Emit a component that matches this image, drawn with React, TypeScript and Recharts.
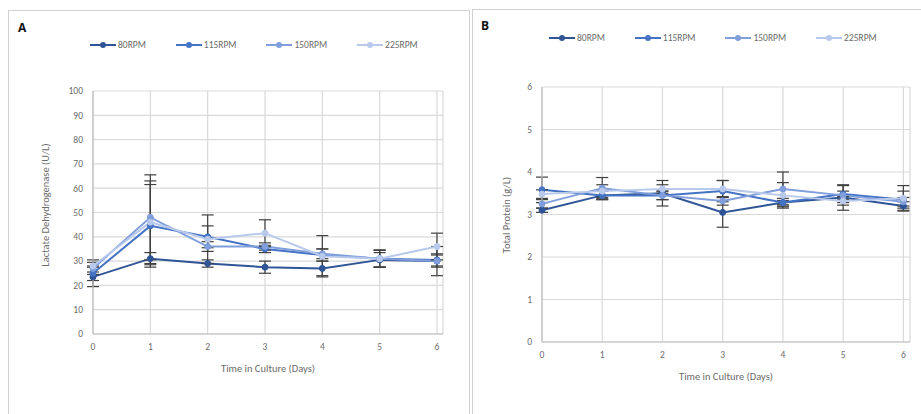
import { CartesianGrid, ErrorBar, Legend, Line, LineChart, XAxis, YAxis } from "recharts";

const days = [0, 1, 2, 3, 4, 5, 6];
const seriesNames = ["80RPM", "115RPM", "150RPM", "225RPM"];
const seriesColors = ["#2f5597", "#4472c4", "#7f9edb", "#b8c9ec"];

// LDH (U/L)
const ldh80 = [23.5, 31, 29, 27.5, 27, 30.5, 30];
const ldh115 = [25, 44.5, 40, 35, 32.5, 31, 30.5];
const ldh150 = [27, 48, 36, 36, 33, 31, 30];
const ldh225 = [28, 46, 39, 41.5, 32, 31, 36];
const ldhErr80 = [4, 2.5, 1.5, 2.5, 3, 3, 2.5];
const ldhErr115 = [3, 17, 4.5, 1.5, 2.5, 3.5, 2.5];
const ldhErr150 = [2.5, 17.5, 2, 1.5, 2, 3.5, 6];
const ldhErr225 = [2.5, 17, 10, 5.5, 8.5, 3.5, 5.5];
const ldhTicks = [0, 10, 20, 30, 40, 50, 60, 70, 80, 90, 100];

// Total protein (g/L)
const tp80 = [3.1, 3.45, 3.5, 3.05, 3.28, 3.4, 3.2];
const tp115 = [3.58, 3.45, 3.45, 3.55, 3.28, 3.48, 3.35];
const tp150 = [3.25, 3.62, 3.45, 3.32, 3.6, 3.45, 3.3];
const tp225 = [3.48, 3.55, 3.6, 3.6, 3.45, 3.32, 3.38];
const tpErr80 = [0.05, 0.1, 0.3, 0.35, 0.1, 0.3, 0.1];
const tpErr115 = [0.3, 0.1, 0.1, 0.25, 0.05, 0.2, 0.2];
const tpErr150 = [0.1, 0.25, 0.1, 0.1, 0.4, 0.1, 0.1];
const tpErr225 = [0.1, 0.15, 0.1, 0.2, 0.3, 0.1, 0.3];
const tpTicks = [0, 1, 2, 3, 4, 5, 6];

function buildRows(values: number[][], errors: number[][]) {
  return days.map((d, i) => {
    const row: Record<string, number> = { day: d };
    seriesNames.forEach((n, s) => {
      row[n] = values[s][i];
      row[n + "_err"] = errors[s][i];
    });
    return row;
  });
}

const ldhData = buildRows([ldh80, ldh115, ldh150, ldh225], [ldhErr80, ldhErr115, ldhErr150, ldhErr225]);
const tpData = buildRows([tp80, tp115, tp150, tp225], [tpErr80, tpErr115, tpErr150, tpErr225]);

const font = "Carlito, 'Open Sans', 'Liberation Sans', sans-serif";
const tickStyle = { fill: "#6b6b6b", fontSize: 9.5, fontFamily: font };

function LegendRow() {
  return (
    <div style={{ display: "flex", gap: 30, fontFamily: font, fontSize: 9.5, color: "#6b6b6b" }}>
      {seriesNames.map((n, i) => (
        <div key={n} style={{ display: "flex", alignItems: "center", gap: 2 }}>
          <svg width={26} height={8}>
            <line x1={0} y1={4} x2={26} y2={4} stroke={seriesColors[i]} strokeWidth={2} />
            <circle cx={13} cy={4} r={3} fill={seriesColors[i]} />
          </svg>
          <span>{n}</span>
        </div>
      ))}
    </div>
  );
}

function Panel({
  data,
  ticks,
  width,
  height,
  margin,
  xMax,
  legendLeft,
  legendTop,
}: {
  data: Record<string, number>[];
  ticks: number[];
  width: number;
  height: number;
  margin: { top: number; right: number; left: number; bottom: number };
  xMax: number;
  legendLeft: number;
  legendTop: number;
}) {
  return (
    <LineChart width={width} height={height} data={data} margin={margin}>
      <CartesianGrid stroke="#d9d9d9" strokeWidth={1.2} />
      <XAxis
        dataKey="day"
        type="number"
        domain={[0, xMax]}
        ticks={days}
        height={30}
        tick={tickStyle}
        tickLine={false}
        tickSize={4}
        tickMargin={5}
        axisLine={{ stroke: "#bfbfbf", strokeWidth: 1.2 }}
      />
      <YAxis
        type="number"
        domain={[ticks[0], ticks[ticks.length - 1]]}
        ticks={ticks}
        width={40}
        tick={tickStyle}
        tickLine={false}
        tickSize={4}
        tickMargin={6}
        axisLine={{ stroke: "#bfbfbf", strokeWidth: 1.2 }}
      />
      <Legend
        layout="horizontal"
        verticalAlign="middle"
        align="center"
        content={() => <LegendRow />}
        wrapperStyle={{ position: "absolute", left: legendLeft, top: legendTop, width: "auto", height: "auto" }}
      />
      {seriesNames.map((n, i) => (
        <Line
          key={n}
          dataKey={n}
          stroke={seriesColors[i]}
          strokeWidth={2}
          dot={{ r: 3, fill: seriesColors[i], stroke: seriesColors[i], strokeWidth: 1 }}
          isAnimationActive={false}
        >
          <ErrorBar dataKey={n + "_err"} direction="y" width={6} stroke="#404040" strokeWidth={1.2} />
        </Line>
      ))}
    </LineChart>
  );
}

const labelStyle: React.CSSProperties = {
  position: "absolute",
  fontFamily: font,
  fontSize: 10.5,
  color: "#6b6b6b",
  whiteSpace: "nowrap",
  transform: "translate(-50%, -50%)",
};

export default function App() {
  return (
    <div style={{ position: "absolute", left: 0, top: 0, width: 921, height: 414, background: "#fff", overflow: "hidden" }}>
      <div style={{ position: "absolute", left: 8, top: 10, width: 462, height: 420, border: "1px solid #d0d0d0", boxSizing: "border-box" }} />
      <div style={{ position: "absolute", left: 472, top: 9, width: 460, height: 420, border: "1px solid #d0d0d0", boxSizing: "border-box" }} />

      <div style={{ position: "absolute", left: 8, top: 10 }}>
        <Panel
          data={ldhData}
          ticks={ldhTicks}
          width={462}
          height={404}
          margin={{ top: 81, right: 27, left: 45, bottom: 50 }}
          xMax={6.105}
          legendLeft={82}
          legendTop={29}
        />
      </div>
      <div style={{ position: "absolute", left: 472, top: 9 }}>
        <Panel
          data={tpData}
          ticks={tpTicks}
          width={449}
          height={405}
          margin={{ top: 78, right: 11, left: 30, bottom: 42 }}
          xMax={6.11}
          legendLeft={77}
          legendTop={23}
        />
      </div>

      <div style={{ position: "absolute", left: 18, top: 19, fontFamily: "'Open Sans', sans-serif", fontWeight: 700, fontSize: 12, color: "#111" }}>A</div>
      <div style={{ position: "absolute", left: 481, top: 17, fontFamily: "'Open Sans', sans-serif", fontWeight: 700, fontSize: 12, color: "#111" }}>B</div>

      <div style={{ ...labelStyle, left: 268, top: 368 }}>Time in Culture (Days)</div>
      <div style={{ ...labelStyle, left: 45, top: 205, transform: "translate(-50%, -50%) rotate(-90deg)" }}>Lactate Dehydrogenase (U/L)</div>
      <div style={{ ...labelStyle, left: 726, top: 376 }}>Time in Culture (Days)</div>
      <div style={{ ...labelStyle, left: 506, top: 215, transform: "translate(-50%, -50%) rotate(-90deg)" }}>Total Protein (g/L)</div>
    </div>
  );
}
